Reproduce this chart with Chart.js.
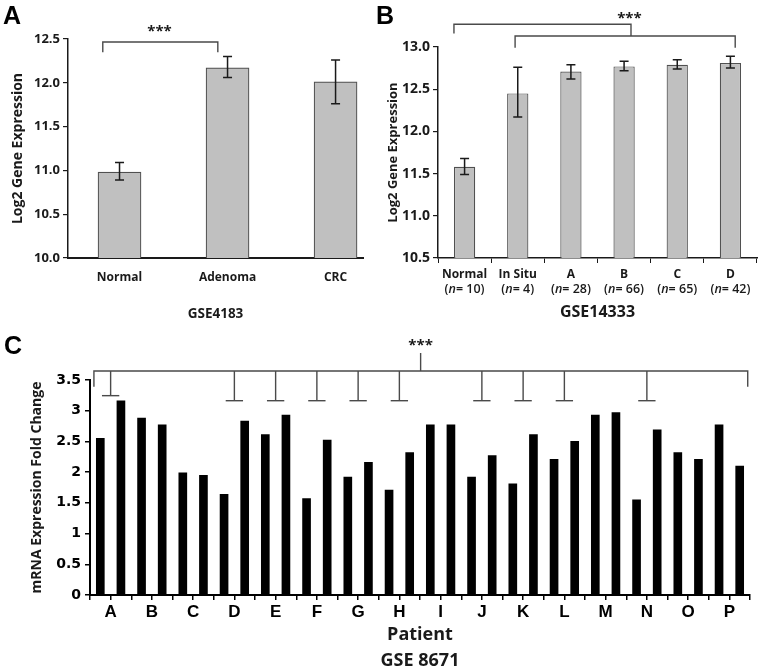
<!DOCTYPE html>
<html>
<head>
<meta charset="utf-8">
<script src="https://cdn.jsdelivr.net/npm/chart.js@4.4.1/dist/chart.umd.min.js"></script>
<style>
  body { margin: 0; background: #fff; overflow: hidden; }
  .panel { position: absolute; }
</style>
</head>
<body>
<div class="panel" style="left:0;top:0"><canvas id="chart-a" width="370" height="330"></canvas></div>
<div class="panel" style="left:370px;top:0"><canvas id="chart-b" width="389" height="330"></canvas></div>
<div class="panel" style="left:0;top:330px"><canvas id="chart-c" width="759" height="343"></canvas></div>
<script>
// ***** data *****
// panel A - GSE4183
const labelsA = ["Normal", "Adenoma", "CRC"];
const valuesA = [10.98, 12.17, 12.01];
const errLowA = [10.89, 12.06, 11.76];
const errHighA = [11.09, 12.3, 12.26];

// panel B - GSE14333
const labelsB = ["Normal", "In Situ", "A", "B", "C", "D"];
const countsB = [10, 4, 28, 66, 65, 42];
const valuesB = [11.58, 12.45, 12.71, 12.77, 12.79, 12.81];
const errLowB = [11.49, 12.17, 12.62, 12.72, 12.74, 12.75];
const errHighB = [11.68, 12.76, 12.79, 12.83, 12.85, 12.89];

// panel C - GSE 8671, two bars per patient
const patients = ["A", "B", "C", "D", "E", "F", "G", "H", "I", "J", "K", "L", "M", "N", "O", "P"];
const valuesC = [
  2.55, 3.16, 2.88, 2.77, 1.99, 1.95, 1.64, 2.83,
  2.61, 2.93, 1.57, 2.52, 1.92, 2.16, 1.71, 2.32,
  2.77, 2.77, 1.92, 2.27, 1.81, 2.61, 2.21, 2.5,
  2.93, 2.97, 1.55, 2.69, 2.32, 2.21, 2.77, 2.1,
];
const markedPatients = ["A", "D", "E", "F", "G", "H", "J", "K", "L", "N"];

// ***** shared bits *****
const INK = "#1a1a1a";
const LINE = "#4a4a4a";
const SANS = "Open Sans";

// draws panel letter, error bars, brackets, stars and the (n= ..) lines
const extras = {
  id: "extras",
  afterDraw(chart, args, opts) {
    const ctx = chart.ctx;
    const xs = chart.scales.x;
    const ys = chart.scales.y;
    ctx.save();

    ctx.fillStyle = "#000";
    ctx.font = "bold 25px 'Liberation Sans'";
    ctx.textBaseline = "top";
    ctx.textAlign = "left";
    ctx.fillText(opts.letter, opts.letterX, opts.letterY);

    if (opts.errLow) {
      ctx.strokeStyle = INK;
      ctx.lineWidth = 1.5;
      opts.errLow.forEach((lo, i) => {
        const px = xs.getPixelForValue(i);
        const y1 = ys.getPixelForValue(lo);
        const y2 = ys.getPixelForValue(opts.errHigh[i]);
        ctx.beginPath();
        ctx.moveTo(px, y1); ctx.lineTo(px, y2);
        ctx.moveTo(px - 4.5, y1); ctx.lineTo(px + 4.5, y1);
        ctx.moveTo(px - 4.5, y2); ctx.lineTo(px + 4.5, y2);
        ctx.stroke();
      });
    }

    ctx.strokeStyle = LINE;
    ctx.lineWidth = 1.4;
    (opts.lines || []).forEach((pts) => {
      ctx.beginPath();
      pts.forEach(([vx, vy], i) => {
        const px = xs.getPixelForValue(vx);
        const py = ys.getPixelForValue(vy);
        i ? ctx.lineTo(px, py) : ctx.moveTo(px, py);
      });
      ctx.stroke();
    });

    if (opts.stars) {
      ctx.fillStyle = INK;
      ctx.font = "bold 15px " + SANS;
      ctx.textAlign = "center";
      ctx.textBaseline = "middle";
      ctx.fillText("***", xs.getPixelForValue(opts.stars[0]), ys.getPixelForValue(opts.stars[1]));
    }

    if (opts.counts) {
      ctx.fillStyle = INK;
      ctx.textBaseline = "middle";
      ctx.textAlign = "left";
      opts.counts.forEach((n, i) => {
        const parts = [["(", "normal"], ["n", "italic"], ["= " + n + ")", "normal"]];
        const fonts = parts.map((p) => p[1] + " 600 12.5px " + SANS);
        let w = 0;
        parts.forEach((p, k) => { ctx.font = fonts[k]; w += ctx.measureText(p[0]).width; });
        let px = xs.getPixelForValue(i) - w / 2;
        parts.forEach((p, k) => {
          ctx.font = fonts[k];
          ctx.fillText(p[0], px, opts.countsY);
          px += ctx.measureText(p[0]).width;
        });
      });
    }
    ctx.restore();
  },
};

const yAxis = (min, max, width, titleText, titleSize, titlePad, tickSize) => ({
  min, max,
  ticks: { stepSize: 0.5, color: INK, padding: 3, font: { family: SANS, size: tickSize, weight: "bold" }, callback: (v) => v.toFixed(1) },
  grid: { drawOnChartArea: false, drawTicks: true, tickLength: 5, color: INK, lineWidth: 1.2 },
  border: { color: INK, width: 1.5 },
  title: { display: true, text: titleText, color: INK, font: { family: SANS, size: titleSize, weight: "bold" }, padding: { top: titlePad, bottom: 0 } },
  afterFit: (s) => { s.width = width; },
});

// ***** Panel A *****
const configA = {
  type: "bar",
  data: {
    datasets: [{
      data: valuesA.map((v, i) => ({ x: i, y: v })),
      backgroundColor: "#c0c0c0",
      borderColor: "#505050",
      borderWidth: 1.2,
      barThickness: 43,
    }],
  },
  options: {
    responsive: false,
    animation: false,
    layout: { padding: { top: 39, right: 7, left: 0, bottom: 0 } },
    plugins: {
      legend: { display: false },
      tooltip: { enabled: false },
      extras: {
        letter: "A", letterX: 3, letterY: 5,
        errLow: errLowA, errHigh: errHighA,
        lines: [[[-0.155, 12.35], [-0.155, 12.465], [0.91, 12.465], [0.91, 12.35]]],
        stars: [0.37, 12.58],
      },
    },
    scales: {
      x: {
        type: "linear", min: -0.477, max: 2.254, offset: false,
        afterBuildTicks: (s) => { s.ticks = labelsA.map((_, i) => ({ value: i })); },
        ticks: { color: INK, padding: 12, maxRotation: 0, autoSkip: false, font: { family: SANS, size: 12, weight: "bold" }, callback: (v) => labelsA[v] },
        grid: { drawOnChartArea: false, drawTicks: false, offset: false },
        border: { color: INK, width: 2 },
        title: { display: true, text: "GSE4183", color: INK, font: { family: SANS, size: 13.5, weight: "bold" }, padding: { top: 0, bottom: 8 } },
        afterFit: (s) => { s.height = 72; },
      },
      y: yAxis(10, 12.5, 68, "Log2 Gene Expression", 14, 10, 13),
    },
  },
  plugins: [extras],
};

// ***** Panel B *****
const configB = {
  type: "bar",
  data: {
    labels: labelsB,
    datasets: [{
      data: valuesB,
      backgroundColor: "#c0c0c0",
      borderColor: "#505050",
      borderWidth: 1.2,
      categoryPercentage: 1,
      barPercentage: 0.4,
    }],
  },
  options: {
    responsive: false,
    animation: false,
    layout: { padding: { top: 47, right: 2, left: 0, bottom: 0 } },
    plugins: {
      legend: { display: false },
      tooltip: { enabled: false },
      extras: {
        letter: "B", letterX: 6, letterY: 5,
        errLow: errLowB, errHigh: errHighB,
        lines: [
          [[-0.2, 13.16], [-0.2, 13.27], [3.13, 13.27], [3.13, 13.13]],
          [[0.95, 12.99], [0.95, 13.13], [5.09, 13.13], [5.09, 12.99]],
        ],
        stars: [3.1, 13.33],
        counts: countsB, countsY: 289,
      },
    },
    scales: {
      x: {
        ticks: { color: INK, padding: 4, maxRotation: 0, autoSkip: false, font: { family: SANS, size: 12, weight: "bold" } },
        grid: { drawOnChartArea: false, drawTicks: true, tickLength: 5, offset: true, color: INK },
        border: { color: INK, width: 1.5 },
        title: { display: true, text: "GSE14333", color: INK, font: { family: SANS, size: 16, weight: "bold" }, padding: { top: 0, bottom: 8 } },
        afterFit: (s) => { s.height = 72; },
      },
      y: yAxis(10.5, 13, 68, "Log2 Gene Expression", 13, 15, 14),
    },
  },
  plugins: [extras],
};

// ***** Panel C *****
const tLines = markedPatients.map((p) => {
  const v = patients.indexOf(p) * 2 + 1;
  const drop = p === "A" ? 3.245 : 3.163;
  return [[v, 3.646], [v, drop], [v - 0.42, drop], [v + 0.42, drop]];
});

const configC = {
  type: "bar",
  data: {
    datasets: [{
      data: valuesC.map((v, i) => ({ x: i + 0.5, y: v })),
      backgroundColor: "#000",
      barThickness: 8,
    }],
  },
  options: {
    responsive: false,
    animation: false,
    layout: { padding: { top: 50, right: 9, left: 0, bottom: 0 } },
    plugins: {
      legend: { display: false },
      tooltip: { enabled: false },
      extras: {
        letter: "C", letterX: 4, letterY: 5,
        lines: [
          [[0.19, 3.39], [0.19, 3.646], [31.89, 3.646], [31.89, 3.39]],
          [[16.03, 3.646], [16.03, 3.94]],
        ].concat(tLines.map((t) => [t[0], t[1]]), tLines.map((t) => [t[2], t[3]])),
        stars: [16.03, 4.06],
      },
    },
    scales: {
      x: {
        type: "linear", min: 0, max: 32, offset: false,
        afterBuildTicks: (s) => { s.ticks = valuesC.concat([0]).map((_, i) => ({ value: i })); },
        ticks: {
          color: "#000", padding: 2, maxRotation: 0, autoSkip: false,
          font: { family: "Liberation Sans", size: 17, weight: "bold" },
          callback: (v) => (v % 2 === 1 ? patients[(v - 1) / 2] : ""),
        },
        grid: { drawOnChartArea: false, drawTicks: true, tickLength: 5, offset: false, color: "#000", lineWidth: 1.5 },
        border: { color: "#000", width: 2 },
        title: { display: true, text: ["Patient", "GSE 8671"], color: INK, font: { family: SANS, size: 18, weight: "bold", lineHeight: 1.4 }, padding: { top: 0, bottom: 0 } },
        afterFit: (s) => { s.height = 78; },
      },
      y: {
        min: 0, max: 3.5,
        ticks: { stepSize: 0.5, color: "#000", padding: 4, font: { family: "DejaVu Sans", size: 14, weight: "bold" }, callback: (v) => String(v) },
        grid: { drawOnChartArea: false, drawTicks: true, tickLength: 5, color: "#000", lineWidth: 1.5 },
        border: { color: "#000", width: 2 },
        title: { display: true, text: "mRNA Expression Fold Change", color: INK, font: { family: SANS, size: 14, weight: "bold" }, padding: { top: 29, bottom: 0 } },
        afterFit: (s) => { s.width = 90; },
      },
    },
  },
  plugins: [extras],
};

const panelA = new Chart(document.getElementById("chart-a"), configA);
const panelB = new Chart(document.getElementById("chart-b"), configB);
const panelC = new Chart(document.getElementById("chart-c"), configC);
</script>
</body>
</html>
